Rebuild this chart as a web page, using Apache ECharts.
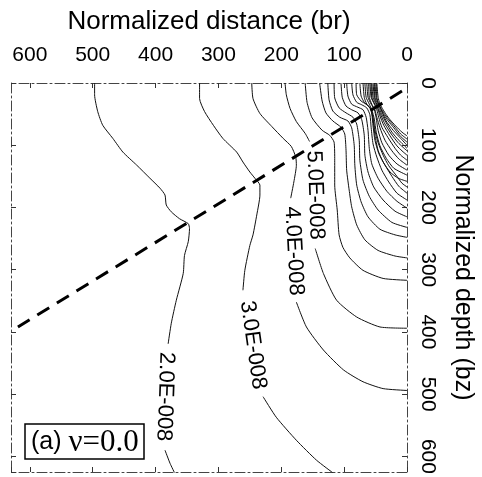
<!DOCTYPE html>
<html>
<head>
<meta charset="utf-8">
<script src="https://cdn.jsdelivr.net/npm/echarts@6/dist/echarts.min.js"></script>
<style>
html, body { margin: 0; padding: 0; background: #fff; }
#chart { width: 482px; height: 477px; }
</style>
</head>
<body>
<div id="chart"></div>
<script>
// tick labels
const distTicks = [0, 100, 200, 300, 400, 500, 600];
const depthTicks = [0, 100, 200, 300, 400, 500, 600];

// contour lines, points are [distance br, depth bz]
const line2a = [[497,0],[497,19],[492,46],[484,68],[468,89],[452,111],[430,132],[409,153],[393,169],[385,180],[383,196],[375,207],[362,218],[348,226],[346,234],[348,255],[354,277],[356,306],[367,349],[375,386],[380,419]];
const line2b = [[385,590],[377,611],[369,628]];
const line3a = [[330,0],[330,25],[322,46],[308,68],[293,89],[271,111],[261,127],[250,143],[242,153],[234,164],[234,180],[239,212],[245,244],[250,261],[258,301],[261,333]];
const line3b = [[229,504],[208,537],[176,574],[144,606],[117,627]];
const line4a = [[247,0],[245,25],[234,49],[215,70],[197,89],[184,102],[177,119],[176,132],[180,159],[185,185]];
const line4b = [[176,352],[160,392],[133,429],[101,461],[70,480],[38,491],[0,494]];
const line5a = [[194,0],[192,19],[186,41],[176,62],[162,81],[155,94]];
const line5b = [[146,266],[133,306],[112,349],[80,376],[43,392],[0,394]];

// inner contours (unlabelled), outer to inner
const lineE = [[162,0],[159,31],[151,56],[135,76],[123,84],[116,95],[115,124],[115,164],[111,204],[108,244],[102,264],[91,281],[70,301],[38,314],[0,317]];
const lineF = [[139,0],[135,29],[129,48],[118,61],[105,71],[99,82],[97,108],[96,140],[92,172],[88,199],[80,228],[67,252],[46,269],[19,278],[0,281]];
const lineG = [[126,0],[124,27],[118,45],[107,55],[94,61],[88,72],[84,100],[83,132],[80,164],[73,191],[62,215],[43,235],[19,244],[0,248]];
const lineH = [[116,0],[115,24],[108,40],[97,48],[86,55],[80,66],[76,92],[75,124],[70,156],[60,182],[46,204],[24,224],[0,232]];
const lineI = [[105,0],[103,23],[97,37],[88,43],[78,48],[72,59],[68,84],[67,116],[62,143],[53,167],[38,188],[19,206],[0,215]];
const lineJ = [[96,0],[94,21],[88,34],[78,39],[70,43],[65,55],[62,76],[60,105],[56,130],[46,153],[32,174],[16,190],[0,201]];
const lineK = [[88,0],[86,19],[80,31],[72,35],[64,40],[59,51],[57,72],[54,98],[48,119],[40,140],[29,159],[16,177],[0,188]];
const lineL = [[81,0],[80,19],[73,29],[65,34],[59,39],[56,50],[54,69],[51,92],[45,113],[35,132],[24,150],[13,166],[0,177]];
const lineM = [[75,0],[73,21],[68,31],[62,37],[57,43],[54,56],[51,76],[46,96],[38,116],[29,133],[16,150],[8,161],[0,167]];
const lineN = [[70,0],[68,23],[64,34],[57,43],[54,59],[51,84],[46,108],[38,127],[27,143],[14,153],[0,158]];
const lineO = [[67,0],[65,23],[60,34],[56,43],[52,58],[49,79],[43,101],[33,121],[21,137],[0,148]];
const lineP = [[64,0],[62,23],[57,34],[52,43],[49,56],[46,76],[40,96],[29,116],[16,130],[0,140]];
const lineQ = [[61,0],[60,23],[56,34],[51,43],[48,55],[43,72],[35,92],[24,109],[13,122],[0,132]];
const lineR = [[59,0],[57,23],[52,34],[48,43],[45,55],[40,71],[30,88],[19,105],[10,116],[0,124]];
const lineS = [[57,0],[56,23],[51,34],[46,43],[43,53],[37,68],[27,85],[16,101],[8,109],[0,116]];
const lineT = [[56,0],[54,23],[49,34],[45,43],[41,53],[35,66],[25,82],[14,96],[0,109]];
const lineU = [[54,0],[52,23],[48,34],[43,43],[40,51],[33,64],[24,79],[13,92],[0,105]];
const lineV = [[52,0],[51,23],[46,34],[41,43],[38,51],[32,63],[22,76],[11,88],[0,100]];
const lineW = [[51,0],[49,23],[45,34],[41,43],[37,51],[30,61],[21,72],[11,85],[0,95]];
const lineX = [[49,0],[48,23],[45,34],[40,43],[35,51],[29,59],[19,71],[10,82],[0,90]];
const lineY = [[48,0],[46,23],[43,34],[38,43],[33,51],[27,59],[18,69],[8,79],[0,85]];

// dashed boundary
const boundaryLine = [[8,13],[619,392]];

// contour labels
const labelText = ['2.0E-008', '3.0E-008', '4.0E-008', '5.0E-008'];
const labelAt = [[385,504],[245,421],[180,270],[146,180]];

const contours = [line2a, line2b, line3a, line3b, line4a, line4b, line5a, line5b,
  lineE, lineF, lineG, lineH, lineI, lineJ, lineK, lineL, lineM, lineN, lineO,
  lineP, lineQ, lineR, lineS, lineT, lineU, lineV, lineW, lineX, lineY];

const font = 'Liberation Sans, Arial, sans-serif';
const frameLine = { show: true, onZero: false, lineStyle: { color: '#444', width: 1, type: [10, 3, 2, 3] } };
const tick = { show: true, inside: true, length: 5, lineStyle: { color: '#333' } };
const labelRotate = [-92, -82, -87, -88];

const chart = echarts.init(document.getElementById('chart'));

const series = contours.map(pts => ({
    type: 'line',
    data: pts,
    showSymbol: false,
    smooth: 0.2,
    silent: true,
    lineStyle: { color: '#111', width: 1 }
}));
series.push({
    type: 'line',
    data: boundaryLine,
    showSymbol: false,
    silent: true,
    lineStyle: { color: '#000', width: 3, type: [14, 9] }
});
series.push({
    type: 'scatter',
    symbolSize: 0,
    silent: true,
    itemStyle: { opacity: 1, color: '#000' },
    data: labelAt.map((p, i) => ({ value: p, label: { rotate: labelRotate[i] } })),
    label: {
        show: true,
        position: 'inside',
        formatter: p => labelText[p.dataIndex],
        fontSize: 22,
        fontFamily: font,
        color: '#000',
        textBorderWidth: 0
    }
});

const option = {
    animation: false,
    title: {
        text: '{a|(a) }{b|ν=0.0}',
        left: 25,
        top: 424,
        borderColor: '#000',
        borderWidth: 1.5,
        padding: [3, 6, 1, 6],
        textStyle: {
            fontWeight: 'normal',
            rich: {
                a: { fontSize: 25, fontWeight: 'normal', fontFamily: font, color: '#000' },
                b: { fontSize: 31, fontWeight: 'normal', fontFamily: 'Liberation Serif, Times New Roman, serif', color: '#000' }
            }
        }
    },
    grid: { left: 11, right: 75, top: 83, bottom: 5, outerBoundsMode: 'none', containLabel: false },
    xAxis: [
        {
            type: 'value', position: 'top', inverse: true,
            min: 0, max: 630, interval: 100,
            axisLine: frameLine, axisTick: tick,
            axisLabel: {
                fontSize: 21, fontFamily: font, color: '#000', margin: 17,
                showMaxLabel: false,
                formatter: v => distTicks.indexOf(v) >= 0 ? String(v) : ''
            },
            splitLine: { show: false },
            name: 'Normalized distance (br)',
            nameLocation: 'middle', nameGap: 48,
            nameTextStyle: { fontSize: 26, fontFamily: font, color: '#000' }
        },
        {
            type: 'value', position: 'bottom', inverse: true,
            min: 0, max: 630, interval: 100,
            axisLine: frameLine, axisTick: tick,
            axisLabel: { show: false }, splitLine: { show: false }
        }
    ],
    yAxis: [
        {
            type: 'value', position: 'right', inverse: true,
            min: 0, max: 625, interval: 100,
            axisLine: frameLine, axisTick: tick,
            axisLabel: {
                rotate: -90, fontSize: 21, fontFamily: font, color: '#000', margin: 10,
                showMaxLabel: false,
                formatter: v => depthTicks.indexOf(v) >= 0 ? String(v) : ''
            },
            splitLine: { show: false },
            name: 'Normalized depth (bz)',
            nameLocation: 'middle', nameRotate: -90, nameGap: 43,
            nameTextStyle: { fontSize: 25, fontFamily: font, color: '#000' }
        },
        {
            type: 'value', position: 'left', inverse: true,
            min: 0, max: 625, interval: 100,
            axisLine: frameLine, axisTick: tick,
            axisLabel: { show: false }, splitLine: { show: false }
        }
    ],
    series: series
};

chart.setOption(option);
</script>
</body>
</html>
